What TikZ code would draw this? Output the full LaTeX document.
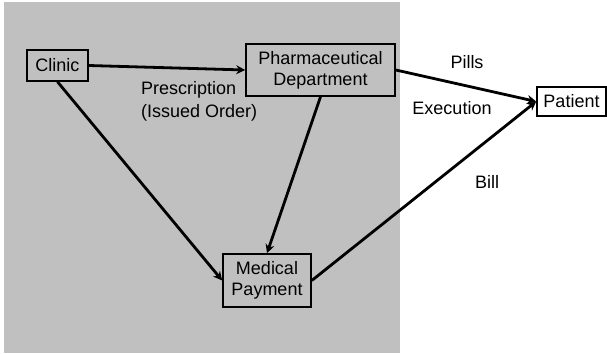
\documentclass[tikz,border=0pt]{standalone}
\usepackage{fontspec}
\setmainfont{Liberation Sans}
\usetikzlibrary{arrows.meta}
\begin{document}
\begin{tikzpicture}[x=1pt,y=-1pt,
  box/.style={draw=black,line width=1.6pt,inner sep=0pt,align=center,
    font=\fontsize{18}{21}\selectfont},
  lbl/.style={inner sep=0pt,font=\fontsize{18}{23}\selectfont},
  flow/.style={line width=2.8pt,-{Stealth[length=9pt,width=9pt,inset=3pt]}}]
  \useasboundingbox (0,0) rectangle (607,353);
  % shaded region around the hospital units
  \fill[fill={rgb,255:red,192;green,192;blue,192}] (4,2) rectangle (400,353);
  % units
  \node[box,minimum width=61pt,minimum height=31pt] (clinic) at (57.5,65.5) {Clinic};
  \node[box,minimum width=149pt,minimum height=52pt] (pharm) at (320.5,70) {Pharmaceutical\\Department};
  \node[box,minimum width=69pt,minimum height=29pt] (patient) at (571.5,101.5) {Patient};
  \node[box,minimum width=88pt,minimum height=53pt] (pay) at (267,280.5) {Medical\\Payment};
  % flows
  \draw[flow] (clinic.east) -- (pharm.west);
  \draw[flow] (clinic.south) -- (pay.west);
  \draw[flow] (pharm.south) -- (pay.north);
  \draw[flow] (pharm.east) -- (patient.west);
  \draw[flow] (pay.east) -- (patient.west);
  % labels
  \node[lbl,anchor=west,align=left] (presc) at (141,101) {Prescription\\(Issued Order)};
  \node[lbl] (pills) at (467,62) {Pills};
  \node[lbl] (exec) at (452,108) {Execution};
  \node[lbl] (bill) at (487,182) {Bill};
\end{tikzpicture}
\end{document}
